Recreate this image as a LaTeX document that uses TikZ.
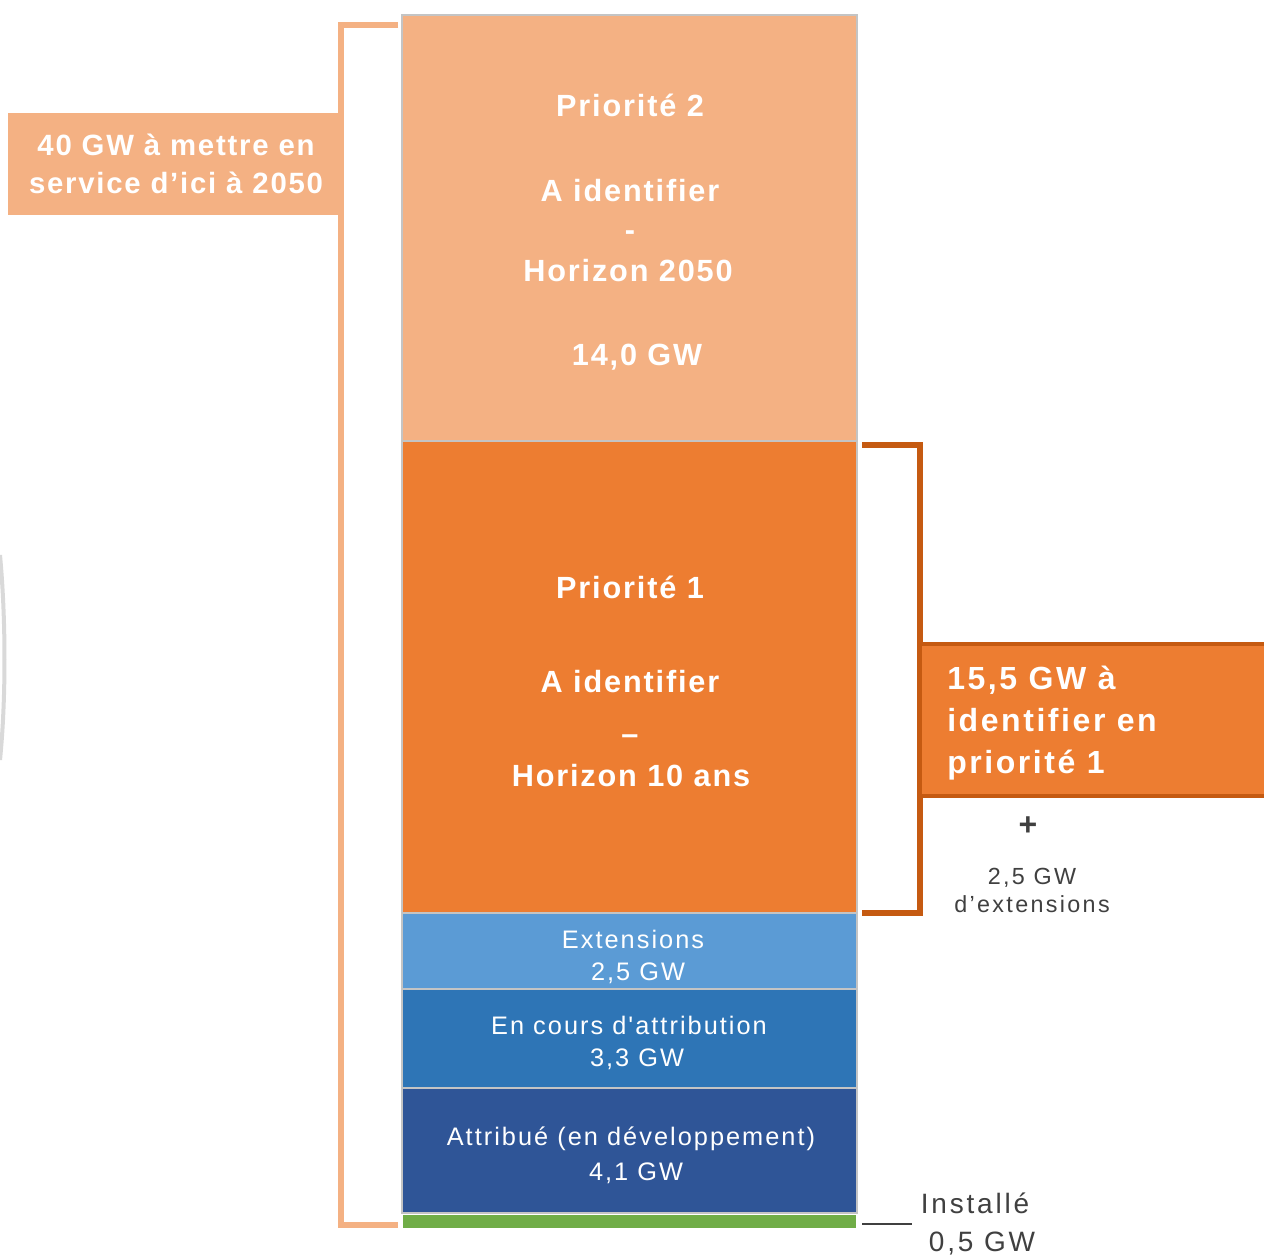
\documentclass[tikz,border=0pt]{standalone}
\usepackage{fontspec}
\setmainfont{Liberation Sans}
\newfontfamily\spfont[LetterSpace=6]{Liberation Sans}
\newfontfamily\mspfont[LetterSpace=8]{Liberation Sans}
\newfontfamily\wspfont[LetterSpace=10]{Liberation Sans}
\definecolor{lorange}{HTML}{F4B183}
\definecolor{morange}{HTML}{ED7D31}
\definecolor{dorange}{HTML}{C55A11}
\definecolor{lblue}{HTML}{5B9BD5}
\definecolor{mblue}{HTML}{2E75B6}
\definecolor{dblue}{HTML}{2F5597}
\definecolor{lgreen}{HTML}{70AD47}
\definecolor{sepgray}{HTML}{C4C4C4}
\definecolor{txtgray}{HTML}{404040}
\begin{document}
\begin{tikzpicture}[x=0.75pt,y=-0.75pt,
  seg/.style={draw=sepgray,line width=2.2pt},
  bigtxt/.style={text=white,font=\spfont\fontsize{23}{28}\selectfont\bfseries,inner sep=0pt,anchor=center},
  smalltxt/.style={text=white,font=\mspfont\fontsize{19}{23}\selectfont,inner sep=0pt,anchor=center},
  graytxt/.style={text=txtgray,font=\wspfont\fontsize{19}{23}\selectfont,inner sep=0pt,anchor=center},
  lbrace/.style={draw=lorange,line width=3.8pt},
  rbrace/.style={draw=dorange,line width=3.8pt}]
\useasboundingbox (0,0) rectangle (1264,1258);
\fill[white] (0,0) rectangle (1264,1258);
% faint arc at left edge
\draw[gray!30,line width=3pt] (0,555) .. controls (6,620) and (6,700) .. (0,760);
% stack
\path[seg,fill=lorange] (402,15) rectangle (857,441);
\path[seg,fill=morange] (402,441) rectangle (857,913);
\path[seg,fill=lblue] (402,913) rectangle (857,989);
\path[seg,fill=mblue] (402,989) rectangle (857,1088);
\path[seg,fill=dblue] (402,1088) rectangle (857,1213);
\fill[lgreen] (403,1215) rectangle (856,1228);
% texts inside
\node[bigtxt] (p2a) at (630,105) {Priorité 2};
\node[bigtxt] (p2b) at (630,191) {A identifier};
\node[bigtxt] (p2c) at (630,236) {-};
\node[bigtxt] (p2d) at (628,271) {Horizon 2050};
\node[bigtxt] (p2e) at (637,357) {14,0 GW};
\node[bigtxt] (p1a) at (630,587) {Priorité 1};
\node[bigtxt] (p1b) at (630,682) {A identifier};
\node[bigtxt] (p1c) at (630,740) {–};
\node[bigtxt] (p1d) at (631,776) {Horizon 10 ans};
\node[smalltxt] (exa) at (633,939) {Extensions};
\node[smalltxt] (exb) at (638,973) {2,5 GW};
\node[smalltxt] (eca) at (629,1025) {En cours d'attribution};
\node[smalltxt] (ecb) at (637,1059) {3,3 GW};
\node[smalltxt] (ata) at (631,1139) {Attribué (en développement)};
\node[smalltxt] (atb) at (636,1173) {4,1 GW};
% left brace and label
\fill[lorange] (8,113) rectangle (342,215);
\node[bigtxt,align=center,font=\spfont\fontsize{22}{28}\selectfont\bfseries] (lbl) at (176,164) {40 GW à mettre en\\service d’ici à 2050};
\draw[lbrace] (398,25) -- (341,25) -- (341,1225) -- (398,1225);
% right brace and label
\draw[rbrace] (862,445) -- (920,445) -- (920,913) -- (862,913);
\fill[morange] (920,644) rectangle (1264,796);
\draw[dorange,line width=2.6pt] (1264,644) -- (920,644) -- (920,796) -- (1264,796);
\node[bigtxt,anchor=west,align=left,font=\mspfont\fontsize{24}{31.5}\selectfont\bfseries] (rlbl) at (947,723) {15,5 GW à\\identifier en\\priorité 1};
\node[graytxt,font=\fontsize{24}{28}\selectfont\bfseries] (plus) at (1028,826) {+};
\node[graytxt,align=center,font=\wspfont\fontsize{17.5}{21}\selectfont] (ext) at (1032,890) {2,5 GW\\d’extensions};
% installed
\node[graytxt,font=\wspfont\fontsize{21}{25}\selectfont] (inst) at (975,1203) {Installé};
\node[graytxt,font=\wspfont\fontsize{21}{25}\selectfont] (instv) at (982,1243) {0,5 GW};
\coordinate (ia) at (862,1224);
\coordinate (ib) at (912,1224);
\draw[txtgray,line width=1.8pt] (ia) -- (ib);
\end{tikzpicture}
\end{document}
